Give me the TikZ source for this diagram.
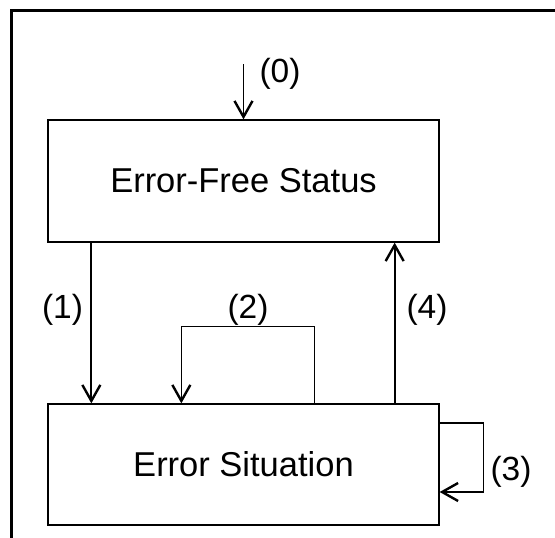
\documentclass[tikz,border=0pt]{standalone}
\usepackage{fontspec}
\setmainfont{Liberation Sans}
\usetikzlibrary{arrows.meta}

\begin{document}
\begin{tikzpicture}[x=1pt,y=-1pt,
  statebox/.style={draw,line width=1.3pt,minimum width=391pt,minimum height=122pt,inner sep=0pt,font=\fontsize{34.5}{40}\selectfont},
  flow/.style={line width=1.8pt,-{Straight Barb[length=16pt,width=18pt,line width=2.4pt]}},
  loopline/.style={line width=1.3pt,-{Straight Barb[length=16pt,width=18pt,line width=2.4pt]}},
  numlabel/.style={inner sep=0pt,font=\fontsize{33.5}{38}\selectfont}]
\useasboundingbox (0,0) rectangle (555,538);
\draw[line width=2.6pt] (11.2,538) -- (11.2,10.7) -- (555,10.7);
\node[statebox] (efs) at (243.5,181) {Error-Free Status};
\node[statebox,minimum height=121pt] (es) at (243.5,464.5) {Error Situation};
\coordinate (start) at (243.5,64);
\draw[flow] (start) -- (efs.north);
\draw[flow] ([xshift=44pt]efs.south west) -- ([xshift=44pt]es.north west);
\draw[flow] ([xshift=-45pt]es.north east) -- ([xshift=-45pt]efs.south east);
\draw[loopline] ([xshift=-125pt]es.north east) -- ++(0,-77) -| ([xshift=134pt]es.north west);
\draw[loopline] ([yshift=41.5pt]es.east) -- ++(43.5,0) |- ([yshift=-27.5pt]es.east);
\node[numlabel] (l0) at (280,74) {(0)};
\node[numlabel] (l1) at (62.5,310) {(1)};
\node[numlabel] (l2) at (248,310) {(2)};
\node[numlabel] (l3) at (511,472) {(3)};
\node[numlabel] (l4) at (427,310) {(4)};
\end{tikzpicture}
\end{document}
